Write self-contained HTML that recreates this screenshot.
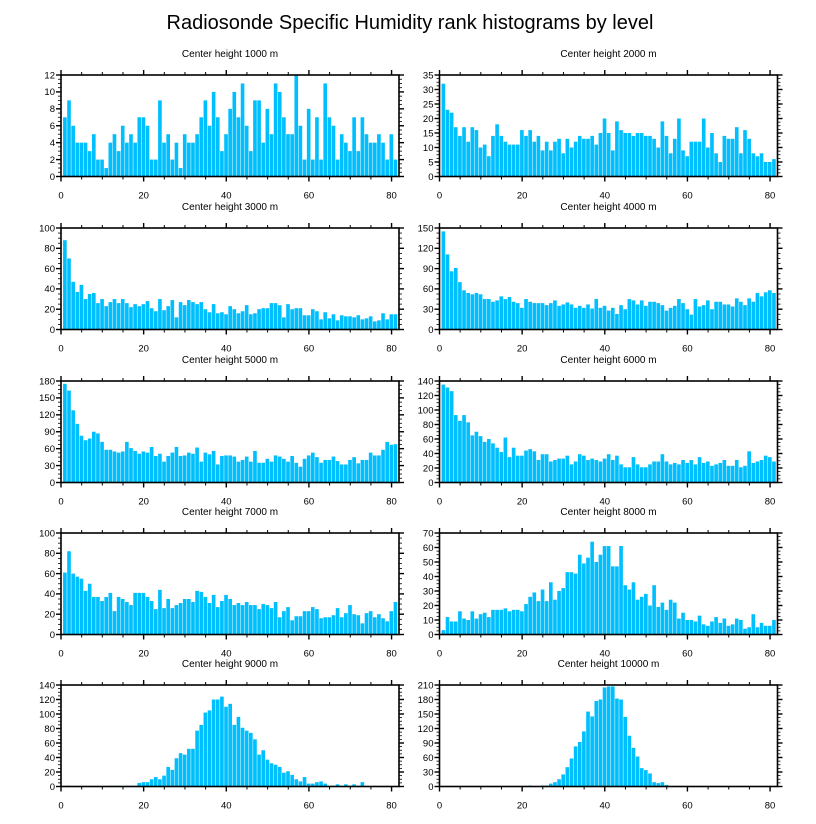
<!DOCTYPE html>
<html><head><meta charset="utf-8">
<style>
html,body{margin:0;padding:0;background:#fff;}
svg{display:block;font-family:"Liberation Sans",Arial,sans-serif;}
</style></head>
<body>
<svg id="chart" width="816" height="824" viewBox="0 0 816 824" xmlns="http://www.w3.org/2000/svg">
<text x="410" y="29" font-size="20" text-anchor="middle" fill="#000">Radiosonde Specific Humidity rank histograms by level</text>
</svg>
<script>
const titles = ["Center height 1000 m","Center height 2000 m","Center height 3000 m","Center height 4000 m","Center height 5000 m","Center height 6000 m","Center height 7000 m","Center height 8000 m","Center height 9000 m","Center height 10000 m"];
const yMax = [12,35,100,150,180,140,100,70,140,210];
const yStep = [2,5,20,30,30,20,20,10,20,30];
const xTicks = [0,20,40,60,80];
const h1000 = [7,9,6,4,4,4,3,5,2,2,1,4,5,3,6,4,5,4,7,7,6,2,2,9,4,5,2,4,1,5,4,4,5,7,9,6,10,7,3,5,8,10,7,11,6,3,9,9,4,8,5,11,10,7,5,5,12,6,2,8,2,7,2,11,7,6,2,5,4,3,7,3,7,5,4,4,5,4,2,5,2];
const h2000 = [32,23,22,17,14,17,12,17,16,10,11,7,14,18,14,12,11,11,11,16,14,16,12,14,9,12,9,12,13,8,13,10,12,14,13,13,14,11,15,20,15,9,19,16,15,15,14,15,15,14,14,13,10,19,14,8,13,20,9,7,12,12,12,20,10,15,8,5,14,13,13,17,8,16,13,8,7,8,5,5,6];
const h3000 = [88,70,47,37,44,30,35,36,26,30,23,27,30,26,30,26,22,25,23,25,28,21,18,30,19,23,29,12,27,24,29,27,25,27,20,17,25,16,17,15,23,20,16,18,24,15,16,20,21,21,26,26,24,12,25,20,21,21,14,14,20,18,10,17,11,15,9,14,13,13,12,14,10,11,13,8,9,16,10,15,15];
const h4000 = [145,111,86,91,70,58,54,52,54,52,45,45,41,43,49,45,48,41,39,32,45,41,39,39,39,36,39,43,35,37,40,37,32,35,32,37,31,45,32,35,28,32,23,36,30,45,43,37,43,35,41,41,39,36,28,32,35,45,39,30,22,45,34,36,43,30,41,41,37,37,34,46,41,36,46,41,54,49,55,58,54];
const h5000 = [175,163,128,104,83,75,78,90,87,72,58,58,55,53,55,72,61,56,51,55,53,63,47,51,37,47,53,63,47,48,53,51,62,37,53,50,56,32,47,48,48,46,37,40,46,37,56,35,35,42,37,48,46,42,37,47,35,28,42,48,53,45,35,40,40,46,38,32,32,40,45,34,40,40,53,48,48,58,72,67,68];
const h6000 = [135,131,126,93,85,93,83,65,70,64,56,60,54,48,42,62,35,48,37,37,44,46,43,31,39,39,29,31,33,33,37,25,29,39,37,31,33,31,29,33,39,31,37,25,21,21,35,25,21,21,25,29,29,39,29,25,27,25,31,27,31,25,35,27,29,23,25,27,31,23,23,31,21,23,43,27,29,31,37,35,29];
const h7000 = [61,82,60,57,55,43,50,37,37,33,37,41,23,37,35,32,29,41,41,41,37,33,25,44,26,35,26,29,31,35,35,32,43,42,37,31,39,27,33,39,35,29,31,29,32,29,29,25,30,29,26,32,17,23,27,14,18,18,23,23,27,25,16,17,17,19,26,17,21,29,20,19,11,21,23,17,20,16,13,23,32];
const h8000 = [3,12,9,9,16,11,10,16,11,14,15,12,17,17,17,18,16,17,17,16,21,26,29,23,31,23,36,24,30,32,43,43,42,55,49,53,64,50,55,61,61,47,47,61,34,31,36,24,26,28,20,34,19,22,17,24,22,11,15,10,10,9,13,7,6,9,12,8,11,6,7,11,10,4,5,14,5,8,6,6,10];
const h9000 = [0,1,0,0,0,0,0,0,0,0,0,1,1,1,0,1,1,1,5,6,6,10,13,10,15,27,23,39,46,44,52,52,77,85,102,105,120,120,124,110,114,85,96,81,77,74,65,44,50,37,32,30,27,19,21,16,10,7,13,4,4,6,7,4,1,1,3,1,3,1,3,1,6,0,0,1,0,0,0,0,0];
const h10000 = [0,0,0,0,0,0,0,0,0,0,0,0,0,0,0,0,0,0,0,0,0,2,1,1,2,2,6,9,15,25,40,58,83,92,114,155,145,177,180,205,207,207,182,180,144,105,80,62,38,34,27,9,7,9,3,1,1,0,1,1,0,0,0,0,0,0,0,0,0,0,0,0,0,0,0,0,0,0,0,0,0];
const series = [h1000,h2000,h3000,h4000,h5000,h6000,h7000,h8000,h9000,h10000];

const NS = "http://www.w3.org/2000/svg";
const svg = document.getElementById('chart');
const colLeft = [61, 439.5];
const rowTop = [75, 228, 381, 533, 685];
const PW = 338, PH = 101.5, XMAX = 81.8;
function mk(tag, attrs, parent){ const e=document.createElementNS(NS,tag); for(const k in attrs) e.setAttribute(k,attrs[k]); (parent||svg).appendChild(e); return e; }

series.forEach((vals, p) => {
  const L = colLeft[p%2], T = rowTop[Math.floor(p/2)], B = T+PH, R = L+PW;
  const xs = v => L + v/XMAX*PW;
  const ys = v => B - v/yMax[p]*PH;
  const g = mk('g', {});
  
  
  const t = mk('text', {x:(L+R)/2, y:T-18, 'font-size':10, 'text-anchor':'middle', fill:'#000'}, g);
  t.textContent = titles[p];
  
  
  vals.forEach((v, i) => {
    if (v <= 0) return;
    const c = i+1;
    const x0 = xs(c-0.5), x1 = xs(c+0.5);
    const r = mk('rect', {x:x0, y:ys(v), width:Math.max(0.5,x1-x0-0.5), height:B-ys(v), fill:'#00bfff'}, g);
    
    
  });
  const f = mk('rect', {x:L, y:T, width:PW, height:PH, fill:'none', stroke:'#000', 'stroke-width':1.6}, g);
  
  
  for (let v=0; v<=XMAX; v+=5) {
    const major = v%20===0, len = major?5:3, x = xs(v);
    mk('line', {x1:x, x2:x, y1:T, y2:T-len, stroke:'#000', 'stroke-width':major?1.4:1}, g);
    mk('line', {x1:x, x2:x, y1:B, y2:B+len, stroke:'#000', 'stroke-width':major?1.4:1}, g);
  }
  xTicks.forEach(v => {
    const tl = mk('text', {x:xs(v), y:B+22, 'font-size':9.5, 'text-anchor':'middle', fill:'#000'}, g);
    tl.textContent = v;
    
    
  });
  const st = yStep[p], minor = st/4;
  for (let v=0; v<=yMax[p]+1e-9; v+=minor) {
    const isMaj = Math.abs(v/st - Math.round(v/st))<1e-6, len = isMaj?5:3, y = ys(v);
    mk('line', {x1:L, x2:L-len, y1:y, y2:y, stroke:'#000', 'stroke-width':isMaj?1.4:0.8}, g);
    mk('line', {x1:R, x2:R+len, y1:y, y2:y, stroke:'#000', 'stroke-width':isMaj?1.4:0.8}, g);
  }
  for (let v=0; v<=yMax[p]+1e-9; v+=st) {
    const tl = mk('text', {x:L-6, y:ys(v)+3.3, 'font-size':9.5, 'text-anchor':'end', fill:'#000'}, g);
    tl.textContent = v;
    
    
  }
});
</script>
</body></html>
